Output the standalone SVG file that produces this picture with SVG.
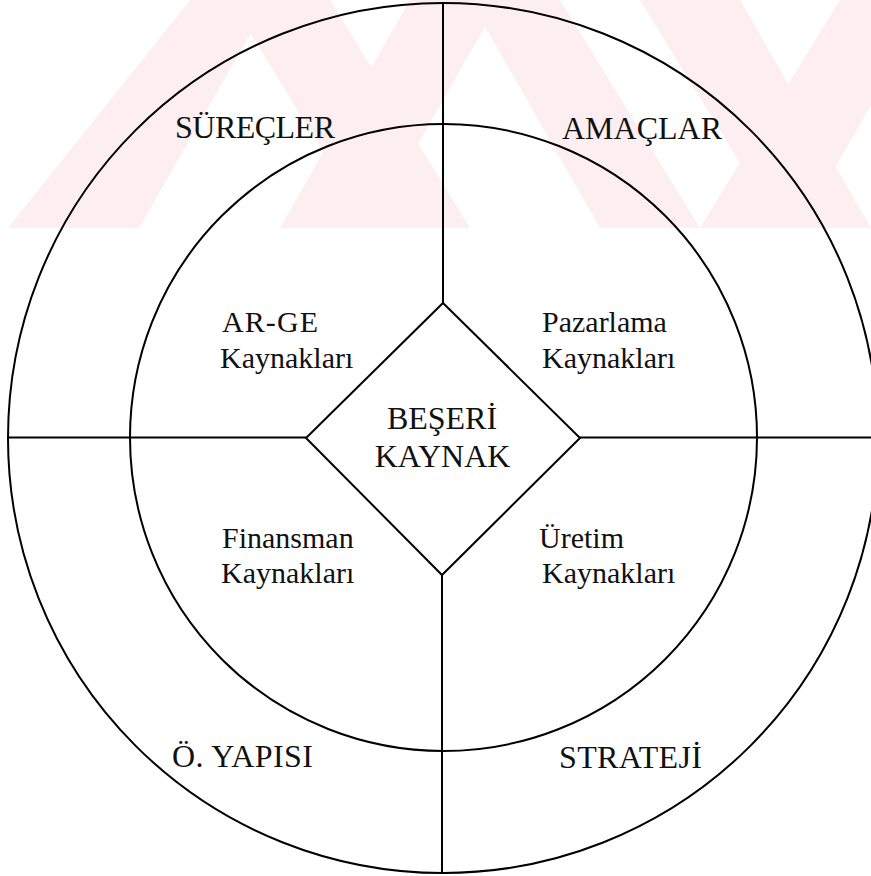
<svg xmlns="http://www.w3.org/2000/svg" width="871" height="876" viewBox="0 0 871 876">
  <style>
    .ln { fill: none; stroke: #000; stroke-width: 2; }
    .lbl { font-family: "Liberation Serif", "Times New Roman", serif; font-size: 30px; fill: #111; }
    .cap { font-size: 32px; }
    .mid { text-anchor: middle; }
    .wm { fill: #fdeef1; }
  </style>
  <rect width="871" height="876" fill="#fff"/>

  <!-- faint background mark across the top band -->
  <g id="backdrop">
    <polygon class="wm" points="8,228 139,228 270,0 190,0"/>
    <polygon class="wm" points="230,0 330,0 470,228 370,228"/>
    <polygon class="wm" points="280,228 370,228 500,0 410,0"/>
    <polygon class="wm" points="470,0 560,0 700,228 600,228"/>
    <polygon class="wm" points="640,0 740,0 871,228 780,228"/>
    <polygon class="wm" points="700,228 800,228 871,105 871,0 840,0"/>
  </g>

  <g id="rings">
    <circle class="ln" cx="443" cy="438" r="435"/>
    <circle class="ln" cx="443.5" cy="437.5" r="313.5"/>
  </g>

  <g id="connectors">
    <line class="ln" x1="443" y1="3" x2="443" y2="303"/>
    <line class="ln" x1="442" y1="575" x2="442" y2="873"/>
    <line class="ln" x1="8" y1="437.5" x2="306" y2="437.5"/>
    <line class="ln" x1="580" y1="437.5" x2="871" y2="437.5"/>
  </g>

  <g id="hub">
    <polygon class="ln" points="443,303 580,438 442,575 306,438"/>
    <text class="lbl cap mid" x="442" y="429">BEŞERİ</text>
    <text class="lbl cap mid" x="442.5" y="467">KAYNAK</text>
  </g>

  <g id="outer-labels">
    <text class="lbl cap" x="175" y="138" textLength="160">SÜREÇLER</text>
    <text class="lbl cap" x="562" y="139" textLength="160">AMAÇLAR</text>
    <text class="lbl cap" x="172" y="767" textLength="141">Ö. YAPISI</text>
    <text class="lbl cap" x="559" y="768" textLength="143">STRATEJİ</text>
  </g>

  <g id="rd">
    <text class="lbl" x="222" y="332" textLength="96">AR-GE</text>
    <text class="lbl" x="220" y="368">Kaynakları</text>
  </g>
  <g id="marketing">
    <text class="lbl" x="542" y="332">Pazarlama</text>
    <text class="lbl" x="542" y="368">Kaynakları</text>
  </g>
  <g id="finance">
    <text class="lbl" x="222" y="548">Finansman</text>
    <text class="lbl" x="221" y="583">Kaynakları</text>
  </g>
  <g id="production">
    <text class="lbl" x="539" y="548">Üretim</text>
    <text class="lbl" x="542" y="583">Kaynakları</text>
  </g>
</svg>
